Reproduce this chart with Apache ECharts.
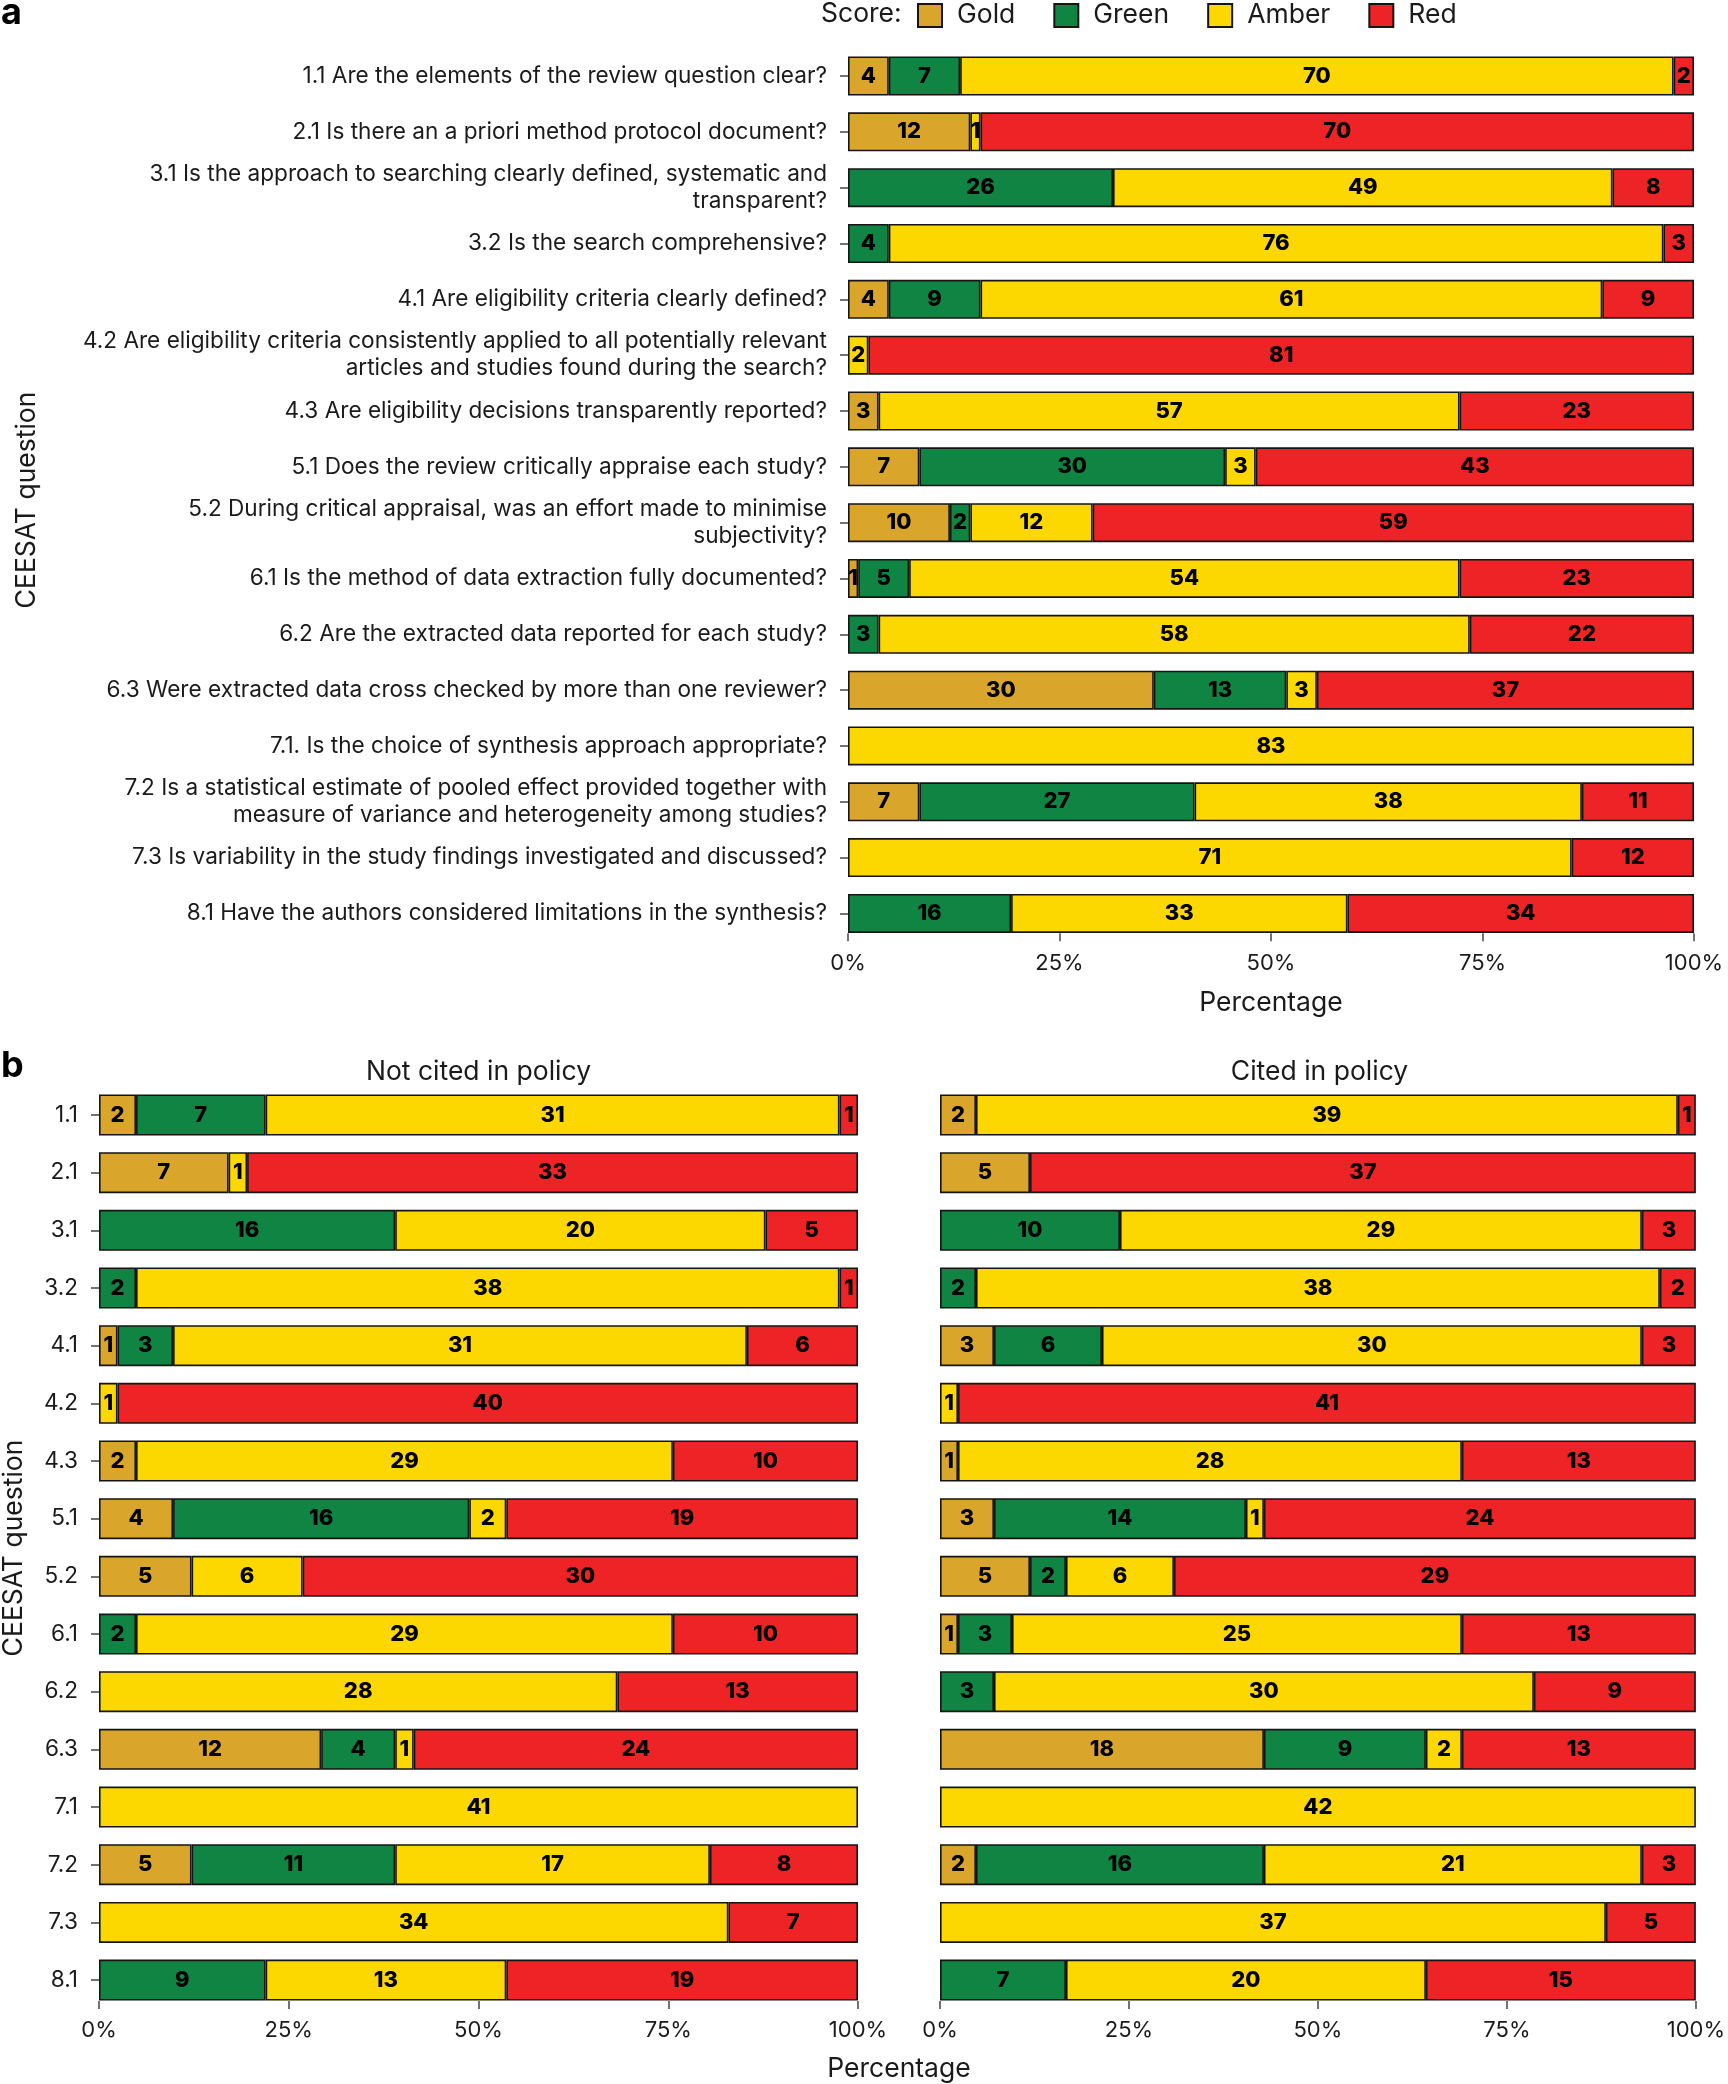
<!DOCTYPE html>
<html>
<head>
<meta charset="utf-8">
<script src="https://cdn.jsdelivr.net/npm/echarts@6/dist/echarts.min.js"></script>
<style>
html,body{margin:0;padding:0;background:#fff;}
#chart{width:1728px;height:2084px;}
</style>
</head>
<body>
<div id="chart"></div>
<script>
// ---------- DATA ----------
const scoreNames = ['Gold', 'Green', 'Amber', 'Red'];
const scoreColors = ['#DAA52B', '#108442', '#FDD800', '#EE2326'];

const questionsA = [
  '1.1 Are the elements of the review question clear?',
  '2.1 Is there an a priori method protocol document?',
  '3.1 Is the approach to searching clearly defined, systematic and\ntransparent?',
  '3.2 Is the search comprehensive?',
  '4.1 Are eligibility criteria clearly defined?',
  '4.2 Are eligibility criteria consistently applied to all potentially relevant\narticles and studies found during the search?',
  '4.3 Are eligibility decisions transparently reported?',
  '5.1 Does the review critically appraise each study?',
  '5.2 During critical appraisal, was an effort made to minimise\nsubjectivity?',
  '6.1 Is the method of data extraction fully documented?',
  '6.2 Are the extracted data reported for each study?',
  '6.3 Were extracted data cross checked by more than one reviewer?',
  '7.1. Is the choice of synthesis approach appropriate?',
  '7.2 Is a statistical estimate of pooled effect provided together with\nmeasure of variance and heterogeneity among studies?',
  '7.3 Is variability in the study findings investigated and discussed?',
  '8.1 Have the authors considered limitations in the synthesis?'
];
const questionsB = ['1.1','2.1','3.1','3.2','4.1','4.2','4.3','5.1','5.2','6.1','6.2','6.3','7.1','7.2','7.3','8.1'];

// Panel a: all reviews
const goldA  = [4, 12, 0, 0, 4, 0, 3, 7, 10, 1, 0, 30, 0, 7, 0, 0];
const greenA = [7, 0, 26, 4, 9, 0, 0, 30, 2, 5, 3, 13, 0, 27, 0, 16];
const amberA = [70, 1, 49, 76, 61, 2, 57, 3, 12, 54, 58, 3, 83, 38, 71, 33];
const redA   = [2, 70, 8, 3, 9, 81, 23, 43, 59, 23, 22, 37, 0, 11, 12, 34];

// Panel b: not cited in policy
const goldNC  = [2, 7, 0, 0, 1, 0, 2, 4, 5, 0, 0, 12, 0, 5, 0, 0];
const greenNC = [7, 0, 16, 2, 3, 0, 0, 16, 0, 2, 0, 4, 0, 11, 0, 9];
const amberNC = [31, 1, 20, 38, 31, 1, 29, 2, 6, 29, 28, 1, 41, 17, 34, 13];
const redNC   = [1, 33, 5, 1, 6, 40, 10, 19, 30, 10, 13, 24, 0, 8, 7, 19];

// Panel b: cited in policy
const goldC  = [2, 5, 0, 0, 3, 0, 1, 3, 5, 1, 0, 18, 0, 2, 0, 0];
const greenC = [0, 0, 10, 2, 6, 0, 0, 14, 2, 3, 3, 9, 0, 16, 0, 7];
const amberC = [39, 0, 29, 38, 30, 1, 28, 1, 6, 25, 30, 2, 42, 21, 37, 20];
const redC   = [1, 37, 3, 2, 3, 41, 13, 24, 29, 13, 9, 13, 0, 3, 5, 15];

const xTicks = [0, 25, 50, 75, 100];

// ---------- BUILD ----------
const FONT = 'Inter, Roboto, "Liberation Sans", sans-serif';
const TXT = '#1a1a1a';

function makeSeries(sets, gridIdx, barWidth) {
  const n = sets[0].length;
  const totals = [];
  for (let i = 0; i < n; i++) totals.push(sets.reduce((s, a) => s + a[i], 0));
  return sets.map((arr, k) => ({
    name: scoreNames[k],
    type: 'bar',
    stack: 'panel' + gridIdx,
    xAxisIndex: gridIdx,
    yAxisIndex: gridIdx,
    barWidth: barWidth,
    data: arr.map((c, i) => c > 0 ? { value: c / totals[i] * 100, count: c } : '-'),
    itemStyle: { color: scoreColors[k], borderColor: '#151515', borderWidth: 1.6 },
    label: {
      show: true, position: 'inside',
      formatter: p => p.data.count,
      fontFamily: FONT, fontWeight: 800, fontSize: 22, color: '#000'
    },
    emphasis: { disabled: true },
    animation: false
  }));
}

function xAxis(gridIdx) {
  return {
    type: 'value', gridIndex: gridIdx, min: xTicks[0], max: xTicks[xTicks.length - 1], interval: 25,
    axisLine: { show: false },
    axisTick: { show: true, inside: true, length: 8, lineStyle: { color: '#444', width: 1.5 } },
    splitLine: { show: false },
    axisLabel: { formatter: '{value}%', fontFamily: FONT, fontSize: 22, color: TXT, margin: 11 }
  };
}
function yAxis(gridIdx, cats, showLabels) {
  return {
    type: 'category', gridIndex: gridIdx, data: cats, inverse: true,
    axisLine: { show: false },
    axisTick: { show: showLabels, alignWithLabel: true, length: 8, lineStyle: { color: '#444', width: 1.5 } },
    axisLabel: { show: showLabels, fontFamily: FONT, fontSize: 22.6, color: TXT, margin: 21, lineHeight: 27, align: 'right' }
  };
}

const bandA = 55.83, bandB = 57.67;
const option = {
  backgroundColor: '#fff',
  animation: false,
  textStyle: { fontFamily: FONT },
  legend: {
    data: scoreNames,
    left: 917, top: 2, padding: 0,
    itemWidth: 24, itemHeight: 23, itemGap: 38,
    icon: 'rect',
    selectedMode: false,
    textStyle: { fontFamily: FONT, fontSize: 26.5, color: TXT, padding: [0, 0, 0, 10] }
  },
  grid: [
    { left: 848, width: 846, top: 76 - bandA / 2, height: bandA * 16 },
    { left: 99, width: 759, top: 1115 - bandB / 2, height: bandB * 16 },
    { left: 940, width: 759, top: 1115 - bandB / 2, height: bandB * 16 }
  ],
  xAxis: [
    Object.assign(xAxis(0), { name: 'Percentage', nameLocation: 'middle', nameGap: 48,
      nameTextStyle: { fontFamily: FONT, fontSize: 26.5, color: TXT } }),
    xAxis(1), xAxis(2)
  ],
  yAxis: [yAxis(0, questionsA, true), yAxis(1, questionsB, true), yAxis(2, questionsB, false)],
  series: [
    ...makeSeries([goldA, greenA, amberA, redA], 0, 39),
    ...makeSeries([goldNC, greenNC, amberNC, redNC], 1, 41),
    ...makeSeries([goldC, greenC, amberC, redC], 2, 41)
  ],
  graphic: [
    { type: 'text', x: 1, y: 13, style: { text: 'a', font: 'bold 36px ' + FONT, fill: '#000', textVerticalAlign: 'middle' } },
    { type: 'text', x: 1, y: 1066, style: { text: 'b', font: 'bold 36px ' + FONT, fill: '#000', textVerticalAlign: 'middle' } },
    { type: 'text', x: 821, y: 14, style: { text: 'Score:', font: '26.5px ' + FONT, fill: TXT, textVerticalAlign: 'middle' } },
    { type: 'text', x: 27, y: 500, rotation: Math.PI / 2, style: { text: 'CEESAT question', font: '26.5px ' + FONT, fill: TXT, textAlign: 'center', textVerticalAlign: 'middle' } },
    { type: 'text', x: 14, y: 1548, rotation: Math.PI / 2, style: { text: 'CEESAT question', font: '26.5px ' + FONT, fill: TXT, textAlign: 'center', textVerticalAlign: 'middle' } },
    { type: 'text', x: 478.5, y: 1072, style: { text: 'Not cited in policy', font: '26.5px ' + FONT, fill: TXT, textAlign: 'center', textVerticalAlign: 'middle' } },
    { type: 'text', x: 1319.5, y: 1072, style: { text: 'Cited in policy', font: '26.5px ' + FONT, fill: TXT, textAlign: 'center', textVerticalAlign: 'middle' } },
    { type: 'text', x: 899, y: 2069, style: { text: 'Percentage', font: '26.5px ' + FONT, fill: TXT, textAlign: 'center', textVerticalAlign: 'middle' } }
  ]
};

const chart = echarts.init(document.getElementById('chart'), null, { renderer: 'canvas' });
chart.setOption(option);
</script>
</body>
</html>
